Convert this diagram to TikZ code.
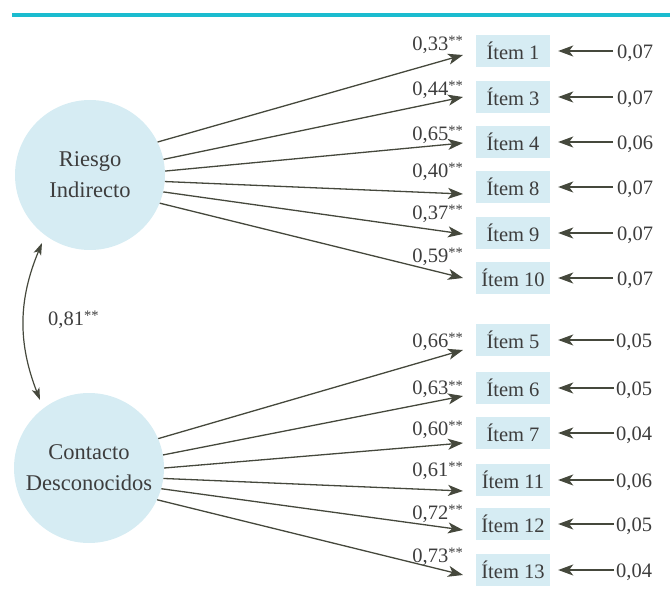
\documentclass[tikz,border=0pt]{standalone}
\usepackage{fontspec}
\setmainfont{Liberation Serif}
\usetikzlibrary{arrows.meta}
\definecolor{rule}{HTML}{1BBCCF}
\definecolor{lightb}{HTML}{D6ECF3}
\definecolor{ink}{HTML}{3D3D3D}
\definecolor{arr}{HTML}{45483C}
\newcommand{\sig}{\raisebox{5pt}{\fontsize{14.5}{14.5}\selectfont **}}
\tikzset{
  latent/.style={circle, fill=lightb, minimum size=150pt, inner sep=0pt, align=center,
    font=\fontsize{22.5}{31}\selectfont, text=ink},
  itembox/.style={rectangle, fill=lightb, minimum width=74pt, minimum height=32pt, inner sep=0pt,
    font=\fontsize{20.5}{22}\selectfont, text=ink},
  errlab/.style={anchor=west, inner sep=2pt, font=\fontsize{20.5}{22}\selectfont, text=ink},
  loadlab/.style={anchor=base east, inner sep=0pt, font=\fontsize{20.5}{22}\selectfont, text=ink},
  path arrow/.style={draw=arr, line width=1.3pt, -{Stealth[length=15pt,width=11pt,inset=4pt]}},
  corr arrow/.style={draw=arr, line width=1.2pt, {Stealth[length=12pt,width=8pt,inset=3pt]}-{Stealth[length=12pt,width=8pt,inset=3pt]}},
}
\begin{document}
\begin{tikzpicture}[x=1pt,y=-1pt]
\useasboundingbox (0,0) rectangle (670,604);
\fill[rule] (12,13) rectangle (670,17);

\node[latent] (c1) at (90,175) {Riesgo\\Indirecto};
\node[latent] (c2) at (89,468) {Contacto\\Desconocidos};

% items group 1: name / box y / loading / error / start angle / tip y / label baseline y
\foreach \n/\y/\ld/\er/\a/\t/\b in {1/51/{0,33}/{0,07}/26/55/51, 3/97/{0,44}/{0,07}/12/97/96, 4/142/{0,65}/{0,06}/3/143/141, 8/187/{0,40}/{0,07}/-5/194/178, 9/233/{0,37}/{0,07}/-13/234/220, 10/278/{0,59}/{0,07}/-22/278/263}{
  \node[itembox] (i\n) at (513,\y) {Ítem \n};
  \node[errlab] (e\n) at (615,\y+2) {\er};
  \coordinate (t\n) at (463,\t);
  \draw[path arrow] (c1.\a) -- (t\n);
  \draw[path arrow, shorten >=8pt, shorten <=2pt] (e\n.west |- i\n.east) -- (i\n.east);
  \node[loadlab] (l\n) at (463,\b) {\ld\sig};
}
% items group 2
\foreach \n/\y/\ld/\er/\a/\t/\b in {5/340/{0,66}/{0,05}/23/350/348, 6/388/{0,63}/{0,05}/10/396/395, 7/433/{0,60}/{0,04}/0/443/435, 11/480/{0,61}/{0,06}/-8/491/476, 12/524/{0,72}/{0,05}/-16/530/519, 13/570/{0,73}/{0,04}/-25/575/562}{
  \node[itembox] (i\n) at (513,\y) {Ítem \n};
  \node[errlab] (e\n) at (614,\y+2) {\er};
  \coordinate (t\n) at (463,\t);
  \draw[path arrow] (c2.\a) -- (t\n);
  \draw[path arrow, shorten >=8pt] (e\n.west |- i\n.east) -- (i\n.east);
  \node[loadlab] (l\n) at (463,\b) {\ld\sig};
}

\coordinate (ct) at (42,243);
\coordinate (cb) at (40,400);
\draw[corr arrow] (ct) to[bend right=22] (cb);
\node[anchor=west, inner sep=0pt, font=\fontsize{20.5}{22}\selectfont, text=ink] (r) at (48,320) {0,81\sig};
\end{tikzpicture}
\end{document}
